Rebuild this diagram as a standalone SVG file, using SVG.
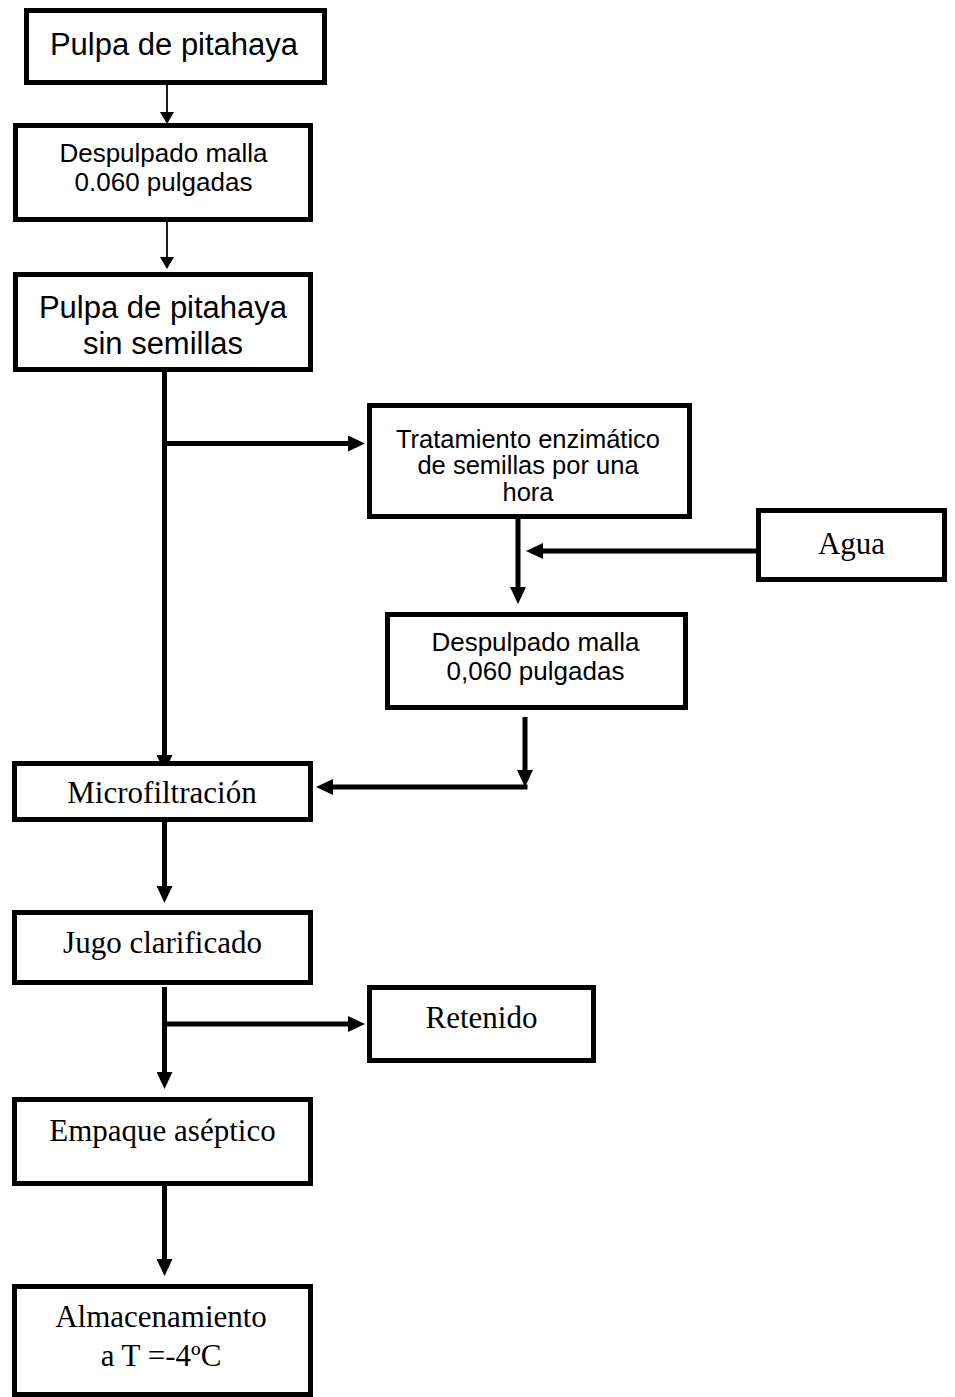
<svg xmlns="http://www.w3.org/2000/svg" width="955" height="1397" viewBox="0 0 955 1397">
<style>
.box{fill:#fff;stroke:#000;stroke-width:5}
.sans{font-family:"Liberation Sans",Arial,sans-serif;fill:#000;text-anchor:middle}
.serif{font-family:"Liberation Serif","Times New Roman",serif;fill:#000;text-anchor:middle;font-size:31px}
.thin{stroke:#000;stroke-width:1.8;fill:none}
.thick{stroke:#000;stroke-width:5;fill:none}
</style>
<defs>
<marker id="ahThin" markerUnits="userSpaceOnUse" markerWidth="12" markerHeight="14" refX="0" refY="7" orient="auto" viewBox="0 0 12 14">
<path d="M0,0 L12,7 L0,14 z" fill="#000"/>
</marker>
<marker id="ahThick" markerUnits="userSpaceOnUse" markerWidth="17" markerHeight="16" refX="0" refY="8" orient="auto" viewBox="0 0 17 16">
<path d="M0,0 L17,8 L0,16 z" fill="#000"/>
</marker>
</defs>
<g id="connectors">
<line class="thin" x1="167" y1="85" x2="167" y2="112" marker-end="url(#ahThin)"/>
<line class="thin" x1="167" y1="198" x2="167" y2="257" marker-end="url(#ahThin)"/>
<line class="thick" x1="164.5" y1="370" x2="164.5" y2="755" marker-end="url(#ahThick)"/>
<line class="thick" x1="164.5" y1="443.5" x2="348" y2="443.5" marker-end="url(#ahThick)"/>
<line class="thick" x1="518" y1="519" x2="518" y2="587" marker-end="url(#ahThick)"/>
<line class="thick" x1="756" y1="551" x2="543" y2="551" marker-end="url(#ahThick)"/>
<line class="thick" x1="525" y1="717" x2="525" y2="770" marker-end="url(#ahThick)"/>
<line class="thick" x1="527.5" y1="787" x2="333" y2="787" marker-end="url(#ahThick)"/>
<line class="thick" x1="164.5" y1="822" x2="164.5" y2="886" marker-end="url(#ahThick)"/>
<line class="thick" x1="164.5" y1="987" x2="164.5" y2="1072" marker-end="url(#ahThick)"/>
<line class="thick" x1="164.5" y1="1024" x2="348" y2="1024" marker-end="url(#ahThick)"/>
<line class="thick" x1="164.5" y1="1175" x2="164.5" y2="1259" marker-end="url(#ahThick)"/>
</g>
<g id="n1"><rect class="box" x="26.5" y="10.5" width="298" height="72"/><text class="sans" x="174" y="55" font-size="31">Pulpa de pitahaya</text></g>
<g id="n2"><rect class="box" x="15.5" y="125.5" width="295" height="94"/><text class="sans" x="163.5" y="162" font-size="26">Despulpado malla</text><text class="sans" x="163.5" y="191" font-size="26">0.060 pulgadas</text></g>
<g id="n3"><rect class="box" x="15.5" y="274.5" width="295" height="95"/><text class="sans" x="163" y="318" font-size="31">Pulpa de pitahaya</text><text class="sans" x="163" y="354" font-size="31">sin semillas</text></g>
<g id="n4"><rect class="box" x="369.5" y="405.5" width="320" height="111"/><text class="sans" x="528" y="448" font-size="25.5">Tratamiento enzimático</text><text class="sans" x="528" y="474" font-size="25.5">de semillas por una</text><text class="sans" x="528" y="501" font-size="25.5">hora</text></g>
<g id="n5"><rect class="box" x="758.5" y="510.5" width="186" height="69"/><text class="serif" x="851.5" y="554">Agua</text></g>
<g id="n6"><rect class="box" x="387.5" y="614.5" width="298" height="93"/><text class="sans" x="535.5" y="651" font-size="26">Despulpado malla</text><text class="sans" x="535.5" y="680" font-size="26">0,060 pulgadas</text></g>
<g id="n7"><rect class="box" x="14.5" y="763.5" width="296" height="56"/><text class="serif" x="162" y="803">Microfiltración</text></g>
<g id="n8"><rect class="box" x="14.5" y="912.5" width="296" height="70"/><text class="serif" x="162.5" y="953">Jugo clarificado</text></g>
<g id="n9"><rect class="box" x="369.5" y="987.5" width="224" height="73"/><text class="serif" x="481.5" y="1028">Retenido</text></g>
<g id="n10"><rect class="box" x="14.5" y="1099.5" width="296" height="84"/><text class="serif" x="162.5" y="1141">Empaque aséptico</text></g>
<g id="n11"><rect class="box" x="14.5" y="1286.5" width="296" height="108"/><text class="serif" x="161" y="1327">Almacenamiento</text><text class="serif" x="161" y="1366">a T =-4ºC</text></g>
</svg>
